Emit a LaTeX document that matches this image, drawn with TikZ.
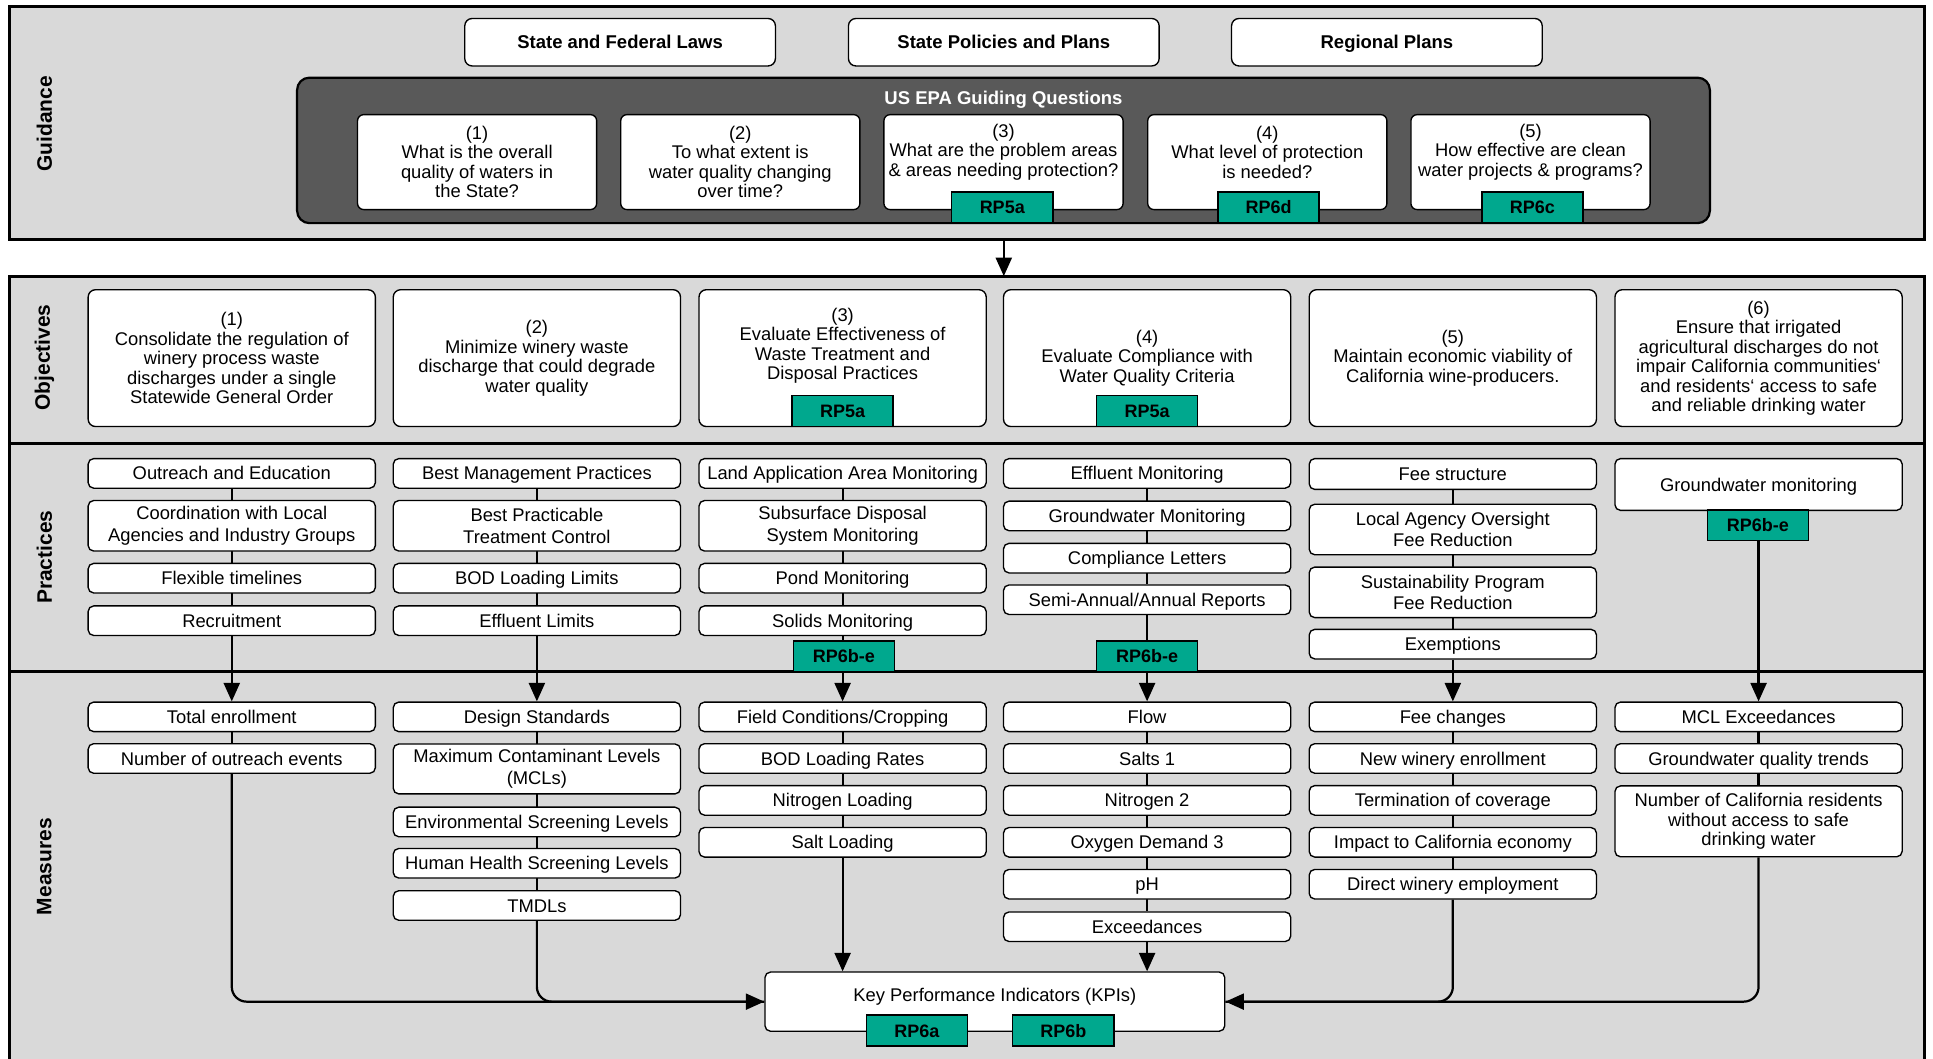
\documentclass[tikz,border=0pt]{standalone}
\usepackage{fontspec}
\setmainfont{Liberation Sans}
\usetikzlibrary{arrows.meta}

\definecolor{panelgray}{HTML}{D9D9D9}
\definecolor{epadark}{HTML}{595959}
\definecolor{tagteal}{RGB}{0,168,142}

\newcommand{\wqBody}{\fontsize{14.9}{15.8}\selectfont}
\newcommand{\wqLoose}{\fontsize{14.9}{17.6}\selectfont}
\newcommand{\wqHead}{\fontsize{15}{17}\selectfont\bfseries}
\newcommand{\wqTag}{\fontsize{14.6}{16}\selectfont\bfseries}
\newcommand{\wqSide}{\fontsize{17}{19}\selectfont\bfseries}

\pgfdeclarelayer{back}
\pgfdeclarelayer{wires}
\pgfsetlayers{back,wires,main}

\begin{document}
\begin{tikzpicture}[x=1pt,y=-1pt,
  panelfill/.style={fill=panelgray, inner sep=0pt, outer sep=0pt},
  panelline/.style={draw=black, line width=2.2pt},
  box/.style={draw=black, line width=1.1pt, fill=white, rounded corners=4.5pt,
    align=center, inner sep=0pt, font=\wqBody, minimum width=233pt, minimum height=24pt},
  cell/.style={box, text height=12.2pt, text depth=1.5pt},
  loose/.style={font=\wqLoose},
  topbox/.style={cell, font=\wqHead, minimum width=252pt, minimum height=38.5pt, rounded corners=6pt},
  qbox/.style={box, minimum width=194pt, minimum height=77pt, rounded corners=5pt},
  obox/.style={box, minimum height=111pt, rounded corners=6pt},
  txt/.style={align=center, inner sep=0pt, font=\wqBody},
  tag/.style={draw=black, line width=1.2pt, fill=tagteal, font=\wqTag,
    text height=11.5pt, text depth=1pt,
    minimum width=82pt, minimum height=25pt, inner sep=0pt},
  side/.style={rotate=90, font=\wqSide, inner sep=0pt},
  conn/.style={line width=1.8pt},
  arr/.style={conn, -{Triangle[width=13pt,length=15pt]}}
]
\useasboundingbox (0,0) rectangle (1568,859);

% ---------- panels ----------
\begin{pgfonlayer}{back}
  \node[panelfill, panelline, minimum width=1553.5pt, minimum height=189pt, anchor=north west] (gpanel) at (7.5,5.5) {};
  \node[panelfill, minimum width=1553.5pt, minimum height=638pt, anchor=north west] (lpanel) at (7.5,224) {};
  \draw[panelline] (lpanel.south west) -- (lpanel.north west) -- (lpanel.north east) -- (lpanel.south east);
  \draw[panelline] (7.5,359.6) -- (1561,359.6);
  \draw[panelline] (7.5,544.8) -- (1561,544.8);
\end{pgfonlayer}

% ---------- row labels ----------
\node[side] (lg) at (36,100.5) {Guidance};
\node[side] (lo) at (36,290) {Objectives};
\node[side] (lp) at (36,452) {Practices};
\node[side] (lm) at (36,703) {Measures};

% ---------- guidance ----------
\node[topbox] (law) at (503,34.25) {State and Federal Laws};
\node[topbox] (pol) at (814.25,34.25) {State Policies and Plans};
\node[topbox] (reg) at (1125,34.25) {Regional Plans};

\node[draw=black, line width=1.8pt, fill=epadark, rounded corners=10pt, inner sep=0pt,
  minimum width=1146pt, minimum height=118pt] (epa) at (814,122) {};
\node[font=\wqHead, text=white, inner sep=0pt, text height=12pt, text depth=1.5pt] (epat) at (814,79.5) {US EPA Guiding Questions};

\node[qbox] (q1) at (387,131.5) {(1)\\What is the overall\\quality of waters in\\the State?};
\node[qbox] (q2) at (600.5,131.5) {(2)\\To what extent is\\water quality changing\\over time?};
\node[qbox] (q3) at (814,131.5) {};
\node[qbox] (q4) at (1028,131.5) {};
\node[qbox] (q5) at (1241.5,131.5) {};
\node[txt] (q3t) at (814,123.5) {(3)\\What are the problem areas\\\& areas needing protection?};
\node[txt] (q4t) at (1028,123.5) {(4)\\What level of protection\\is needed?};
\node[txt] (q5t) at (1241.5,123.5) {(5)\\How effective are clean\\water projects \& programs?};
\node[tag] (q3g) at (813,168.2) {RP5a};
\node[tag] (q4g) at (1029,168.2) {RP6d};
\node[tag] (q5g) at (1243,168.2) {RP6c};

% ---------- objectives ----------
\node[obox] (o1) at (188,290.5) {(1)\\Consolidate the regulation of\\winery process waste\\discharges under a single\\Statewide General Order};
\node[obox] (o2) at (435.5,290.5) {(2)\\Minimize winery waste\\discharge that could degrade\\water quality};
\node[obox] (o3) at (683.5,290.5) {};
\node[txt] (o3t) at (683.5,280.5) {(3)\\Evaluate Effectiveness of\\Waste Treatment and\\Disposal Practices};
\node[obox] (o4) at (930.5,290.5) {(4)\\Evaluate Compliance with\\Water Quality Criteria};
\node[obox] (o5) at (1178.5,290.5) {(5)\\Maintain economic viability of\\California wine-producers.};
\node[obox] (o6) at (1426.5,290.5) {(6)\\Ensure that irrigated\\agricultural discharges do not\\impair California communities‘\\and residents‘ access to safe\\and reliable drinking water};
\node[tag] (o3g) at (683.5,333.5) {RP5a};
\node[tag] (o4g) at (930.5,333.5) {RP5a};

% ---------- practices ----------
\node[cell] (p11) at (188,384) {Outreach and Education};
\node[box, loose, minimum height=41pt] (p12) at (188,426.5) {Coordination with Local\\Agencies and Industry Groups};
\node[cell] (p13) at (188,469) {Flexible timelines};
\node[cell] (p14) at (188,503.5) {Recruitment};

\node[cell] (p21) at (435.5,384) {Best Management Practices};
\node[box, loose, minimum height=41pt] (p22) at (435.5,426.5) {Best Practicable\\Treatment Control};
\node[cell] (p23) at (435.5,469) {BOD Loading Limits};
\node[cell] (p24) at (435.5,503.5) {Effluent Limits};

\node[cell] (p31) at (683.5,384) {Land Application Area Monitoring};
\node[box, loose, minimum height=41pt] (p32) at (683.5,426.5) {Subsurface Disposal\\System Monitoring};
\node[cell] (p33) at (683.5,469) {Pond Monitoring};
\node[cell] (p34) at (683.5,503.5) {Solids Monitoring};
\node[tag] (p3g) at (684.5,532.5) {RP6b-e};

\node[cell] (p41) at (930.5,384) {Effluent Monitoring};
\node[cell] (p42) at (930.5,418.5) {Groundwater Monitoring};
\node[cell] (p43) at (930.5,452.75) {Compliance Letters};
\node[cell] (p44) at (930.5,486.5) {Semi-Annual/Annual Reports};
\node[tag] (p4g) at (930.5,532.5) {RP6b-e};

\node[cell, minimum height=25pt] (p51) at (1178.5,384.5) {Fee structure};
\node[box, loose, minimum height=41pt] (p52) at (1178.5,429.5) {Local Agency Oversight\\Fee Reduction};
\node[box, loose, minimum height=41pt] (p53) at (1178.5,480.5) {Sustainability Program\\Fee Reduction};
\node[cell] (p54) at (1178.5,522.5) {Exemptions};

\node[cell, minimum height=42pt] (p61) at (1426.5,393) {Groundwater monitoring};
\node[tag] (p6g) at (1426,426) {RP6b-e};

% ---------- measures ----------
\node[cell] (m11) at (188,581.5) {Total enrollment};
\node[cell] (m12) at (188,615.25) {Number of outreach events};

\node[cell] (m21) at (435.5,581.5) {Design Standards};
\node[box, loose, minimum height=40.5pt] (m22) at (435.5,623.75) {Maximum Contaminant Levels\\(MCLs)};
\node[cell] (m23) at (435.5,666.75) {Environmental Screening Levels};
\node[cell] (m24) at (435.5,700.25) {Human Health Screening Levels};
\node[cell] (m25) at (435.5,734.5) {TMDLs};

\node[cell] (m31) at (683.5,581.5) {Field Conditions/Cropping};
\node[cell] (m32) at (683.5,615.25) {BOD Loading Rates};
\node[cell] (m33) at (683.5,649.25) {Nitrogen Loading};
\node[cell] (m34) at (683.5,683.25) {Salt Loading};

\node[cell] (m41) at (930.5,581.5) {Flow};
\node[cell] (m42) at (930.5,615.25) {Salts 1};
\node[cell] (m43) at (930.5,649.25) {Nitrogen 2};
\node[cell] (m44) at (930.5,683.25) {Oxygen Demand 3};
\node[cell] (m45) at (930.5,717.25) {pH};
\node[cell] (m46) at (930.5,751.75) {Exceedances};

\node[cell] (m51) at (1178.5,581.5) {Fee changes};
\node[cell] (m52) at (1178.5,615.25) {New winery enrollment};
\node[cell] (m53) at (1178.5,649.25) {Termination of coverage};
\node[cell] (m54) at (1178.5,683.25) {Impact to California economy};
\node[cell] (m55) at (1178.5,717.25) {Direct winery employment};

\node[cell] (m61) at (1426.5,581.5) {MCL Exceedances};
\node[cell] (m62) at (1426.5,615.25) {Groundwater quality trends};
\node[box, minimum height=57.5pt] (m63) at (1426.5,666.25) {Number of California residents\\without access to safe\\drinking water};

% ---------- key performance indicators ----------
\node[box, minimum width=373pt, minimum height=48pt] (kpi) at (807,812.5) {};
\node[txt, text height=12.2pt, text depth=1.5pt] (kpit) at (807,807) {Key Performance Indicators (KPIs)};
\node[tag] (k1g) at (743.75,836) {RP6a};
\node[tag] (k2g) at (862.5,836) {RP6b};

% ---------- connectors ----------
\begin{pgfonlayer}{wires}
  \draw[arr] (gpanel.south -| pol) -- (lpanel.north -| pol);

  \draw[conn] (p11) -- (p14);
  \draw[arr] (p14) -- (m11);
  \draw[conn] (m11) -- (m12);
  \draw[arr, rounded corners=12pt] (m12.south) |- (kpi.west);

  \draw[conn] (p21) -- (p24);
  \draw[arr] (p24) -- (m21);
  \draw[conn] (m21) -- (m25);
  \draw[conn, rounded corners=12pt] (m25.south) |- (kpi.west);

  \draw[conn] (p31) -- (p34);
  \draw[arr] (p34) -- (m31);
  \draw[conn] (m31) -- (m34);
  \draw[arr] (m34) -- (m34 |- kpi.north);

  \draw[conn] (p41) -- (p44);
  \draw[arr] (p44) -- (m41);
  \draw[conn] (m41) -- (m46);
  \draw[arr] (m46) -- (m46 |- kpi.north);

  \draw[conn] (p51) -- (p54);
  \draw[arr] (p54) -- (m51);
  \draw[conn] (m51) -- (m55);
  \draw[arr, rounded corners=12pt] (m55.south) |- (kpi.east);

  \draw[arr] (p61) -- (m61);
  \draw[conn] (m61) -- (m63);
  \draw[conn, rounded corners=12pt] (m63.south) |- (kpi.east);
\end{pgfonlayer}
\end{tikzpicture}
\end{document}
